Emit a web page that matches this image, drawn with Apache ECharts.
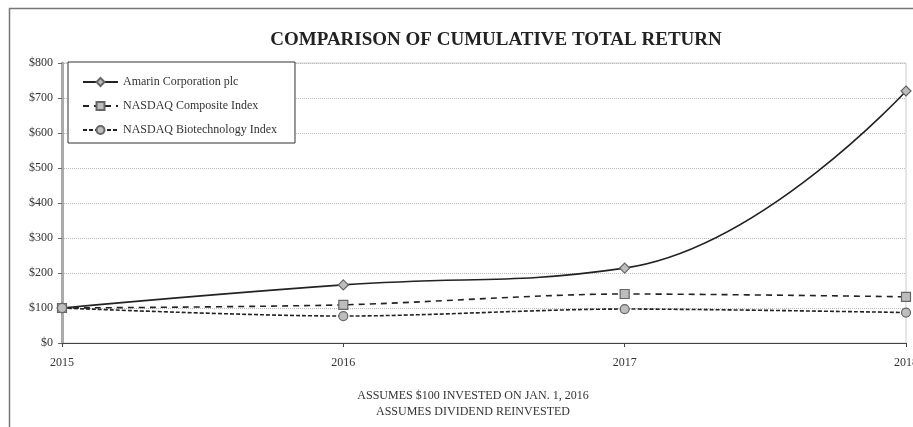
<!DOCTYPE html>
<html><head><meta charset="utf-8">
<script src="https://cdn.jsdelivr.net/npm/echarts@6/dist/echarts.min.js"></script>
<style>html,body{margin:0;padding:0;background:#fff}#c{width:913px;height:427px}</style>
</head><body><div id="c"></div>
<script>
const years = ['2015', '2016', '2017', '2018'];
const amarin = [100, 166, 214, 720];
const nasdaqComposite = [100, 109, 140, 132];
const nasdaqBiotech = [100, 77, 97, 87];

const F = '"Liberation Serif", "Times New Roman", serif';
const chart = echarts.init(document.getElementById('c'));
const mk = (name, data, type, sym, smooth) => ({
  name, type: 'line', data, smooth,
  symbol: sym, symbolSize: sym === 'diamond' ? 10 : 9,
  lineStyle: { color: '#222', width: 1.6, type },
  itemStyle: { color: '#bdbdbd', borderColor: '#666', borderWidth: 1.2 },
  z: 3
});
chart.setOption({
  animation: false,
  title: {
    text: 'COMPARISON OF CUMULATIVE TOTAL RETURN',
    left: 491, top: 26, textAlign: 'center',
    textStyle: { fontFamily: F, fontWeight: 'bold', fontSize: 19, color: '#222' }
  },
  graphic: [
    { type: 'polyline', shape: { points: [[9.5, 427], [9.5, 8.5], [913, 8.5]] }, style: { stroke: '#777', lineWidth: 1.5, fill: null } },
    { type: 'text', x: 473, y: 388, style: { text: 'ASSUMES $100 INVESTED ON JAN. 1, 2016\nASSUMES DIVIDEND REINVESTED', align: 'center', fontFamily: F, fontSize: 12, lineHeight: 16, fill: '#333' } }
  ],
  legend: {
    left: 68, top: 62, orient: 'vertical', itemGap: 12, itemWidth: 35, itemHeight: 10,
    padding: [14, 18, 7, 14],
    borderColor: '#333', borderWidth: 1, backgroundColor: '#fff',
    textStyle: { fontFamily: F, fontSize: 12, color: '#333' },
    data: ['Amarin Corporation plc', 'NASDAQ Composite Index', 'NASDAQ Biotechnology Index']
  },
  grid: { left: 62, right: 7, top: 63, bottom: 84, show: true, borderColor: '#ccc', borderWidth: 1, outerBoundsMode: 'none', containLabel: false },
  xAxis: {
    type: 'category', data: years, boundaryGap: false,
    axisLine: { lineStyle: { color: '#444', width: 1 } },
    axisTick: { show: true, alignWithLabel: true, length: 4, lineStyle: { color: '#444' } },
    axisLabel: { fontFamily: F, fontSize: 12, color: '#333', margin: 14 },
    splitLine: { show: false }
  },
  yAxis: {
    type: 'value', min: 0, max: 800, interval: 100,
    axisLine: { show: true, lineStyle: { color: '#aaa', width: 3 } },
    axisTick: { show: true, length: 4, lineStyle: { color: '#666' } },
    axisLabel: { fontFamily: F, fontSize: 12, color: '#333', margin: 9, formatter: v => '$' + v },
    splitLine: { lineStyle: { color: '#bbb', type: 'dotted', width: 1 } }
  },
  series: [
    mk('Amarin Corporation plc', amarin, 'solid', 'diamond', 0.45),
    mk('NASDAQ Composite Index', nasdaqComposite, [6, 5], 'rect', 0.3),
    mk('NASDAQ Biotechnology Index', nasdaqBiotech, [4, 2], 'circle', 0.3)
  ]
});
</script></body></html>
